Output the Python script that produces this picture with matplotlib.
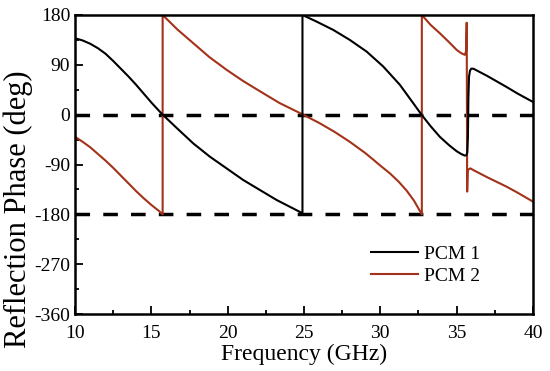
import numpy as np
import matplotlib.pyplot as plt
from matplotlib.ticker import MultipleLocator

plt.rcParams['font.family'] = ['Liberation Serif', 'DejaVu Serif']
plt.rcParams['axes.unicode_minus'] = False

# PCM 1 (black)
f1 = [10.0, 10.5, 11.0, 11.5, 12.0, 12.5, 13.0, 13.5, 14.0, 14.5, 15.0, 15.5, 15.78,
      16.66, 17.75, 18.84, 19.93, 21.02, 22.11, 23.2, 24.9, 24.9,
      25.83, 26.92, 28.0, 29.1, 30.19, 31.28, 32.15, 32.7, 33.3, 33.9, 34.5, 35.0, 35.3,
      35.54, 35.64, 35.7, 35.74, 35.77, 35.81, 35.87, 35.95, 36.1, 37.0, 38.27, 39.0, 40.0]
p1 = [138, 134, 128, 120, 110, 97, 83, 69, 54, 38, 22, 7, -1,
      -24, -52, -76, -97, -118, -136, -154, -178, 180,
      168, 153, 135, 114, 87, 54, 21, 0, -21, -40, -55, -66, -71,
      -74, -73, -68, -40, 30, 68, 79, 83, 83, 70, 50, 38, 23]

# PCM 2 (red)
f2 = [10.0, 10.5, 11.0, 11.5, 12.0, 12.5, 13.0, 13.5, 14.0, 14.5, 15.0, 15.5, 15.74, 15.74,
      16.7, 17.75, 18.8, 19.93, 21.0, 22.13, 23.4, 24.8, 26.0, 27.0, 28.0, 29.0, 29.53,
      30.0, 30.63, 31.2, 31.72, 32.2, 32.72, 32.72, 33.3, 33.9, 34.5, 35.0, 35.3, 35.54,
      35.62, 35.66, 35.69, 35.73, 35.9, 36.09, 37.0, 38.27, 39.0, 40.0]
p2 = [-40, -49, -59, -71, -83, -96, -110, -124, -138, -151, -163, -174, -180, 180,
      154, 129, 104, 81, 61, 42, 21, 2, -15, -31, -49, -69, -81,
      -92, -106, -121, -137, -155, -180, 180, 162, 147, 131, 117, 111, 108,
      115, 166, -139, -100, -97, -100, -113, -130, -141, -157]

fig = plt.figure(figsize=(5.5, 3.71), dpi=100)
ax = fig.add_axes([0.1364, 0.1536, 0.8326, 0.806])

ax.axhline(0, color='black', lw=2.5, ls=(0, (4.2, 3.8)), zorder=1)
ax.axhline(-180, color='black', lw=2.5, ls=(0, (4.2, 3.8)), zorder=1)

ax.plot(f1, p1, color='black', lw=1.5, label='PCM 1', zorder=3)
ax.plot(f2, p2, color='#A33219', lw=1.5, label='PCM 2', zorder=2)

ax.set_xlim(10, 40)
ax.set_ylim(-360, 180)
ax.xaxis.set_major_locator(MultipleLocator(5))
ax.xaxis.set_minor_locator(MultipleLocator(2.5))
ax.yaxis.set_major_locator(MultipleLocator(90))
ax.yaxis.set_minor_locator(MultipleLocator(45))
ax.tick_params(which='both', direction='in', top=False, right=False, labelsize=14, width=1.3)
ax.tick_params(which='major', length=6)
ax.tick_params(which='minor', length=3)
ax.tick_params(axis='x', pad=8)
for s in ax.spines.values():
    s.set_linewidth(1.8)

ax.set_xlabel('Frequency (GHz)', fontsize=17, labelpad=1)
ax.set_ylabel('Reflection Phase (deg)', fontsize=22)
ax.yaxis.set_label_coords(-0.092, 0.351)

ax.legend(loc='lower right', bbox_to_anchor=(0.922, 0.04), frameon=False, fontsize=14,
          handlelength=2.4, handletextpad=0.3, labelspacing=0.2)

fig.savefig('out.png', dpi=100)
